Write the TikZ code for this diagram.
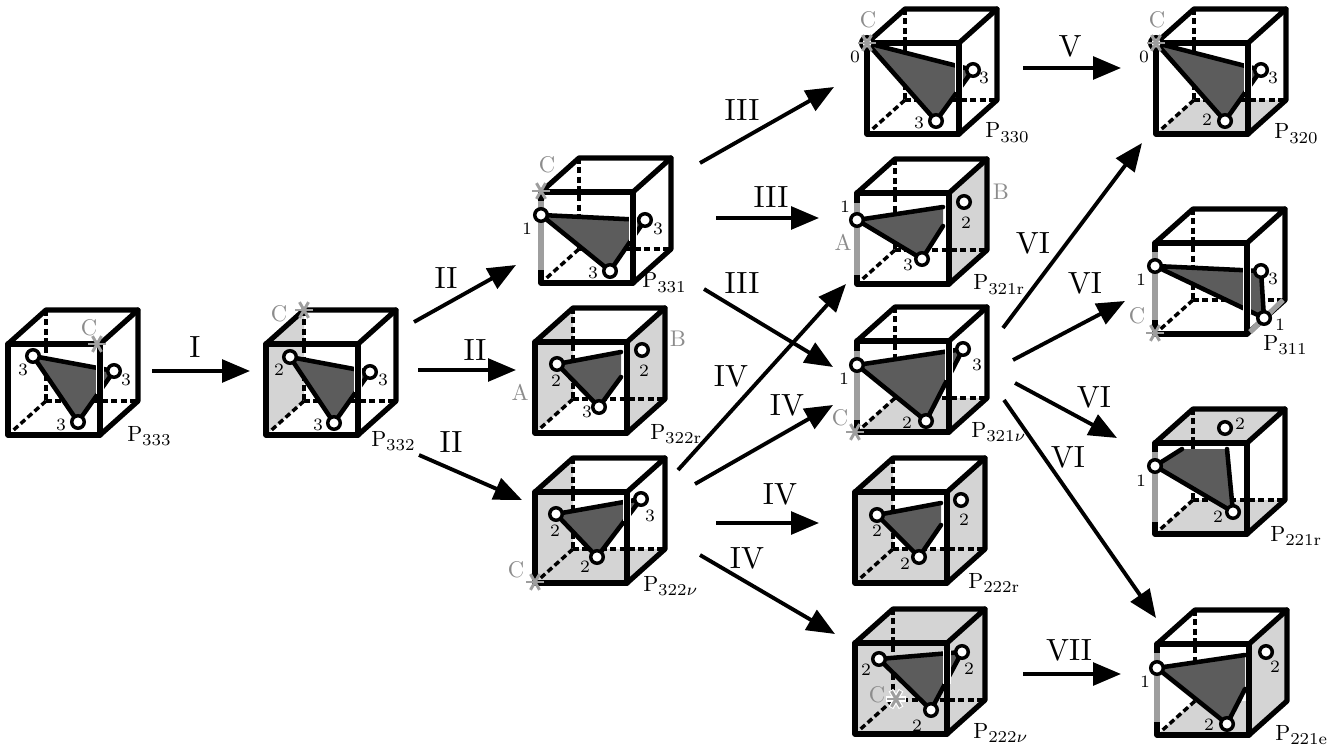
\documentclass[tikz,border=0pt]{standalone}
\usetikzlibrary{arrows.meta}
\definecolor{facegray}{gray}{0.83}
\definecolor{tridark}{gray}{0.36}
\definecolor{markgray}{gray}{0.62}
\definecolor{lettergray}{gray}{0.55}
\font\digfont=cmr7 at 13pt
\font\subfont=cmr7 at 12.5pt
\font\nufont=cmmi7 at 12.5pt
\font\tagfont=cmr10 at 16.5pt
\font\letfont=cmr10 at 17pt
\font\romfont=cmr10 at 23pt
\newif\ifhdash \hdashtrue
\tikzset{
  every picture/.style={x=0.75pt,y=-0.75pt},
  edgeline/.style={line width=3.9pt,line cap=round,line join=round},
  hiddenline/.style={line width=2.6pt,dash pattern=on 4.5pt off 2.5pt},
  triline/.style={line width=3.4pt,line join=round,line cap=round},
  grayline/.style={line width=3.9pt,draw=markgray},
  pt/.style={circle,fill=white,draw=black,line width=2.6pt,minimum size=9.4pt,inner sep=0pt,outer sep=0pt},
  num/.style={inner sep=0pt,font=\digfont},
  tag/.style={inner sep=0pt,anchor=base west,font=\tagfont},
  glet/.style={inner sep=0pt,text=lettergray,font=\letfont},
  roman/.style={inner sep=0pt,font=\romfont},
  flow/.style={line width=2.9pt,-{Triangle[length=21pt,width=17pt]},shorten >=0pt},
}
% body of a cube: origin = top left corner of the front square
\newcommand\CubeBody[3]{%
  \begin{scope}[shift={(#1,#2)}]
    \foreach \f in {#3}{%
      \fill[facegray] \csname face\f\endcsname;}
    \draw[hiddenline] (38,-34) -- (38,57);
    \draw[hiddenline] (38,57) -- (0,91);
    \ifhdash\draw[hiddenline] (38,57) -- (130,57);\fi
    \draw[edgeline] (0,0) -- (38,-34) -- (130,-34) -- (92,0);
    \draw[edgeline] (130,-34) -- (130,57) -- (92,91);
    \draw[edgeline] (92,0) -- (0,0) -- (0,91) -- (92,91);
  \end{scope}}
\newcommand\CubeFront[2]{%
  \begin{scope}[shift={(#1,#2)}]
    \draw[edgeline] (92,0) -- (92,91);
  \end{scope}}
\newcommand\Halo[3]{\draw[white,line width=6pt] (#1,#2) -- (#1,#3);}
\def\faceL{(0,0) -- (38,-34) -- (38,57) -- (0,91) -- cycle}
\def\faceR{(92,0) -- (130,-34) -- (130,57) -- (92,91) -- cycle}
\def\faceF{(0,91) -- (38,57) -- (130,57) -- (92,91) -- cycle}
\def\faceT{(0,0) -- (38,-34) -- (130,-34) -- (92,0) -- cycle}
\def\faceB{(38,-34) -- (130,-34) -- (130,57) -- (38,57) -- cycle}
% triangle through three named coordinates
\newcommand\Tri[3]{%
  \fill[tridark] (#1) -- (#2) -- (#3) -- cycle;
  \draw[triline] (#2) -- (#1) -- (#3) -- cycle;}
% clipped quadrilateral
\newcommand\Quad[4]{%
  \fill[tridark] (#1) -- (#2) -- (#3) -- (#4) -- cycle;
  \draw[triline] (#2) -- (#1) -- (#4) -- (#3);}
\newcommand\Star[1]{%
  \foreach \a in {0,60,120}{\draw[markgray,line width=2.2pt] ([shift={(\a:6.8pt)}]#1) -- ([shift={(\a+180:6.8pt)}]#1);}}
\newcommand\HaloStar[1]{%
  \foreach \a in {0,60,120}{\draw[white,line width=4pt] ([shift={(\a:7.6pt)}]#1) -- ([shift={(\a+180:7.6pt)}]#1);}%
  \Star{#1}}
\newcommand\Tag[2]{P\raisebox{-3.2pt}{\subfont #1#2}}
\newcommand\NuSub{{\nufont\char"17}}
\begin{document}
\begin{tikzpicture}
\useasboundingbox (0,0) rectangle (1344,748);
% ---------- P333
\CubeBody{8}{344}{}
\coordinate (a1) at (33,356); \coordinate (b1) at (114,371); \coordinate (c1) at (78,422);
\Tri{a1}{b1}{c1}
\Halo{100}{365}{394}
\CubeFront{8}{344}
\node[pt] (p1a) at (a1) {}; \node[pt] (p1b) at (b1) {}; \node[pt] (p1c) at (c1) {};
\coordinate (s1) at (97,344); \Star{s1}
\node[num] (n1a) at (23,370) {3}; \node[num] (n1b) at (126,380) {3}; \node[num] (n1c) at (61,425) {3};
\node[glet] (g1) at (89,328) {C};
\node[tag] (t1) at (127,441) {\Tag{333}{}};
% ---------- P332
\CubeBody{266}{344}{L}
\coordinate (a2) at (290,357); \coordinate (b2) at (370,372); \coordinate (c2) at (334,423);
\Tri{a2}{b2}{c2}
\Halo{358}{366}{392}
\CubeFront{266}{344}
\node[pt] (p2a) at (a2) {}; \node[pt] (p2b) at (b2) {}; \node[pt] (p2c) at (c2) {};
\coordinate (s2) at (304,310); \Star{s2}
\node[num] (n2a) at (279,370) {2}; \node[num] (n2b) at (383,380) {3}; \node[num] (n2c) at (318,425) {3};
\node[glet] (g2) at (279,314) {C};
\node[tag] (t2) at (371,446) {\Tag{332}{}};
% ---------- P331
\CubeBody{541}{192}{}
\draw[grayline] (541,201) -- (541,270);
\coordinate (a3) at (541,215); \coordinate (b3) at (645,220); \coordinate (c3) at (610,271);
\Tri{a3}{b3}{c3}
\Halo{633}{216}{241}
\CubeFront{541}{192}
\node[pt] (p3a) at (a3) {}; \node[pt] (p3b) at (b3) {}; \node[pt] (p3c) at (c3) {};
\coordinate (s3) at (541,191); \Star{s3}
\node[num] (n3a) at (527,229) {1}; \node[num] (n3b) at (658,229) {3}; \node[num] (n3c) at (593,273) {3};
\node[glet] (g3) at (547,165) {C};
\node[tag] (t3) at (642,288) {\Tag{331}{}};
% ---------- P322r
\CubeBody{535}{342}{L,R}
\coordinate (a4) at (557,364); \coordinate (e4) at (621,352); \coordinate (f4) at (621,377); \coordinate (c4) at (599,407);
\Quad{a4}{e4}{f4}{c4}
\CubeFront{535}{342}
\node[pt] (p4a) at (a4) {}; \node[pt] (p4b) at (642,350) {}; \node[pt] (p4c) at (c4) {};
\node[num] (n4a) at (556,381) {2}; \node[num] (n4b) at (644,371) {2}; \node[num] (n4c) at (587,412) {3};
\node[glet] (g4a) at (520,393) {A}; \node[glet] (g4b) at (678,339) {B};
\node[tag] (t4) at (650,439) {\Tag{322}{r}};
% ---------- P322v
\CubeBody{535}{492}{L,F}
\coordinate (a5) at (556,514); \coordinate (b5) at (641,499); \coordinate (c5) at (597,557);
\Tri{a5}{b5}{c5}
\Halo{627}{498}{521}
\CubeFront{535}{492}
\node[pt] (p5a) at (a5) {}; \node[pt] (p5b) at (b5) {}; \node[pt] (p5c) at (c5) {};
\coordinate (s5) at (535,582); \Star{s5}
\node[num] (n5a) at (555,531) {2}; \node[num] (n5b) at (650,516) {3}; \node[num] (n5c) at (585,567) {2};
\node[glet] (g5) at (516,570) {C};
\node[tag] (t5) at (643,591) {\Tag{322}{\NuSub}};
% ---------- P330
\CubeBody{867}{43}{}
\coordinate (a6) at (867,43); \coordinate (b6) at (973,70); \coordinate (c6) at (936,121);
\Tri{a6}{b6}{c6}
\Halo{959}{63}{92}
\CubeFront{867}{43}
\node[pt] (p6a) at (a6) {}; \node[pt] (p6b) at (b6) {}; \node[pt] (p6c) at (c6) {};
\Star{a6}
\node[num] (n6a) at (855,57) {0}; \node[num] (n6b) at (984,78) {3}; \node[num] (n6c) at (919,123) {3};
\node[glet] (g6) at (868,20) {C};
\node[tag] (t6) at (985,138) {\Tag{330}{}};
% ---------- P321r
\CubeBody{857}{193}{R}
\draw[grayline] (857,203) -- (857,275);
\coordinate (a7) at (857,220); \coordinate (e7) at (943,207); \coordinate (f7) at (943,226); \coordinate (c7) at (922,259);
\Quad{a7}{e7}{f7}{c7}
\CubeFront{857}{193}
\node[pt] (p7a) at (a7) {}; \node[pt] (p7b) at (964,202) {}; \node[pt] (p7c) at (c7) {};
\node[num] (n7a) at (845,207) {1}; \node[num] (n7b) at (966,223) {2}; \node[num] (n7c) at (908,265) {3};
\node[glet] (g7a) at (843,243) {A}; \node[glet] (g7b) at (1001,192) {B};
\node[tag] (t7) at (973,290) {\Tag{321}{r}};
% ---------- P321v
\CubeBody{857}{341}{F}
\coordinate (s8) at (855,432);
\coordinate (a8) at (857,365); \coordinate (b8) at (963,349); \coordinate (c8) at (926,421);
\draw[grayline] (857,351) -- (857,420);
\Tri{a8}{b8}{c8}
\Halo{949}{347}{380}
\CubeFront{857}{341}
\node[pt] (p8a) at (a8) {}; \node[pt] (p8b) at (b8) {}; \node[pt] (p8c) at (c8) {};
\Star{s8}
\node[num] (n8a) at (844,379) {1}; \node[num] (n8b) at (977,365) {3}; \node[num] (n8c) at (907,423) {2};
\node[glet] (g8) at (840,418) {C};
\node[tag] (t8) at (971,437) {\Tag{321}{\NuSub}};
% ---------- P222r
\CubeBody{855}{492}{L,R,F}
\coordinate (a9) at (877,515); \coordinate (e9) at (941,503); \coordinate (f9) at (941,525); \coordinate (c9) at (919,557);
\Quad{a9}{e9}{f9}{c9}
\CubeFront{855}{492}
\node[pt] (p9a) at (a9) {}; \node[pt] (p9b) at (961,500) {}; \node[pt] (p9c) at (c9) {};
\node[num] (n9a) at (877,531) {2}; \node[num] (n9b) at (964,520) {2}; \node[num] (n9c) at (905,564) {2};
\node[tag] (t9) at (968,588) {\Tag{222}{r}};
% ---------- P222v
\CubeBody{855}{643}{L,R,F,T,B}
\coordinate (a10) at (879,659); \coordinate (b10) at (962,652); \coordinate (c10) at (931,710);
\Tri{a10}{b10}{c10}
\Halo{947}{650}{684}
\CubeFront{855}{643}
\node[pt] (p10a) at (a10) {}; \node[pt] (p10b) at (b10) {}; \node[pt] (p10c) at (c10) {};
\coordinate (s10) at (896,699); \HaloStar{s10}
\node[num] (n10a) at (866,670) {2}; \node[num] (n10b) at (969,669) {2}; \node[num] (n10c) at (917,726) {2};
\node[glet] (g10) at (877,695) {C};
\node[tag] (t10) at (973,738) {\Tag{222}{\NuSub}};
% ---------- P320
\CubeBody{1156}{43}{F}
\coordinate (a11) at (1156,43); \coordinate (b11) at (1261,70); \coordinate (c11) at (1225,121);
\Tri{a11}{b11}{c11}
\Halo{1248}{63}{92}
\CubeFront{1156}{43}
\node[pt] (p11a) at (a11) {}; \node[pt] (p11b) at (b11) {}; \node[pt] (p11c) at (c11) {};
\Star{a11}
\node[num] (n11a) at (1144,57) {0}; \node[num] (n11b) at (1273,78) {3}; \node[num] (n11c) at (1207,120) {2};
\node[glet] (g11) at (1157,20) {C};
\node[tag] (t11) at (1274,139) {\Tag{320}{}};
% ---------- P311
\CubeBody{1155}{243}{}
\coordinate (a12) at (1155,266); \coordinate (b12) at (1261,271); \coordinate (c12) at (1264,318); \coordinate (s12) at (1155,333);
\draw[grayline] (1155,252) -- (1155,320);
\draw[grayline] (1250,332) -- (1283,300);
\Tri{a12}{b12}{c12}
\Halo{1247}{265}{314}
\CubeFront{1155}{243}
\draw[grayline] (1250,332) -- (c12);
\node[pt] (p12a) at (a12) {}; \node[pt] (p12b) at (b12) {}; \node[pt] (p12c) at (c12) {};
\Star{s12}
\node[num] (n12a) at (1141,280) {1}; \node[num] (n12b) at (1273,279) {3}; \node[num] (n12c) at (1280,325) {1};
\node[glet] (g12) at (1137,316) {C};
\node[tag] (t12) at (1263,350) {\Tag{311}{}};
% ---------- P221r
\CubeBody{1155}{443}{T,F}
\draw[grayline] (1155,452) -- (1155,522);
\coordinate (a13) at (1155,466); \coordinate (e13) at (1182,449); \coordinate (f13) at (1227,449); \coordinate (c13) at (1233,512);
\Quad{a13}{e13}{f13}{c13}
\CubeFront{1155}{443}
\node[pt] (p13a) at (a13) {}; \node[pt] (p13b) at (1225,428) {}; \node[pt] (p13c) at (c13) {};
\node[num] (n13a) at (1141,481) {1}; \node[num] (n13b) at (1240,424) {2}; \node[num] (n13c) at (1218,517) {2};
\node[tag] (t13) at (1270,541) {\Tag{221}{r}};
% ---------- P221e
\hdashfalse
\CubeBody{1157}{644}{R,F}
\hdashtrue
\draw[grayline] (1157,653) -- (1157,722);
\coordinate (a14) at (1157,668); \coordinate (e14) at (1245,655); \coordinate (f14) at (1245,689); \coordinate (c14) at (1227,724);
\Quad{a14}{e14}{f14}{c14}
\CubeFront{1157}{644}
\node[pt] (p14a) at (a14) {}; \node[pt] (p14b) at (1266,652) {}; \node[pt] (p14c) at (c14) {};
\node[num] (n14a) at (1145,682) {1}; \node[num] (n14b) at (1275,667) {2}; \node[num] (n14c) at (1209,725) {2};
\node[tag] (t14) at (1275,740) {\Tag{221}{e}};
% ---------- arrows
\foreach \n/\x/\y/\u/\v in {1/152/371/250/371, 2/414/322/516/265, 3/418/370/516/370, 4/419/455/522/500,
  5/700/163/834/87, 6/716/218/819/218, 7/704/289/833/367, 8/678/470/846/284, 9/695/484/833/405,
  10/716/523/819/523, 11/700/555/835/634, 12/1023/68/1121/68, 13/1003/328/1142/143,
  14/1013/360/1125/301, 15/1015/383/1117/438, 16/1004/400/1156/618, 17/1023/674/1121/674}{
  \coordinate (from\n) at (\x,\y); \coordinate (to\n) at (\u,\v);
  \draw[flow] (from\n) -- (to\n);
}
% ---------- step labels
\node[roman] (r1) at (195,347) {I};
\node[roman] (r2) at (446,278) {II};
\node[roman] (r3) at (475,350) {II};
\node[roman] (r4) at (451,442) {II};
\node[roman] (r5) at (742,110) {III};
\node[roman] (r6) at (771,197) {III};
\node[roman] (r7) at (742,283) {III};
\node[roman] (r8) at (731,376) {IV};
\node[roman] (r9) at (787,405) {IV};
\node[roman] (r10) at (780,494) {IV};
\node[roman] (r11) at (747,558) {IV};
\node[roman] (r12) at (1070,46) {V};
\node[roman] (r13) at (1033,243) {VI};
\node[roman] (r14) at (1085,283) {VI};
\node[roman] (r15) at (1094,397) {VI};
\node[roman] (r16) at (1068,457) {VI};
\node[roman] (r17) at (1069,650) {VII};
\end{tikzpicture}
\end{document}
